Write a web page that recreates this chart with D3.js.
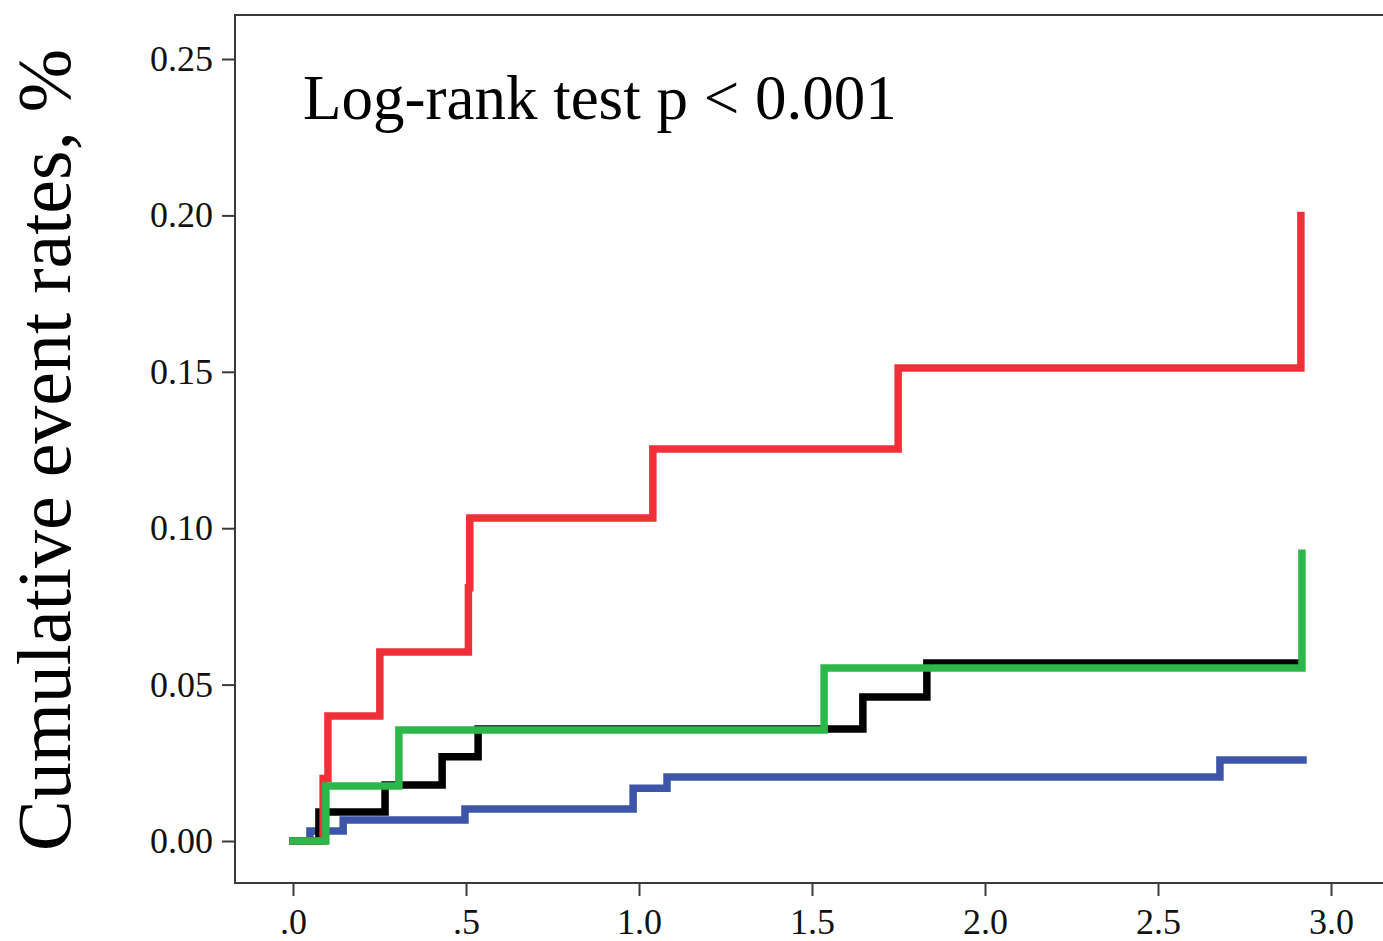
<!DOCTYPE html>
<html>
<head>
<meta charset="utf-8">
<script src="https://cdn.jsdelivr.net/npm/d3@7"></script>
<style>
  html, body { margin: 0; padding: 0; background: #fff; }
  svg { display: block; }
</style>
</head>
<body>
<svg id="chart" width="1383" height="941"></svg>
<script>
// ---- data (years, cumulative event rate) ----
const redTimes   = [0, 0.087, 0.101, 0.251, 0.507, 0.511, 1.040, 1.749, 2.913];
const redValues  = [0, 0.020, 0.040, 0.0604, 0.081, 0.1033, 0.1253, 0.1512, 0.2000];

const blackTimes  = [0, 0.075, 0.266, 0.431, 0.535, 1.647, 1.832, 2.905];
const blackValues = [0, 0.0093, 0.0179, 0.0269, 0.0358, 0.0460, 0.0569, 0.0569];

const greenTimes  = [0, 0.095, 0.306, 1.535, 2.916];
const greenValues = [0, 0.0176, 0.0355, 0.0553, 0.0920];

const blueTimes   = [0, 0.049, 0.145, 0.497, 0.983, 1.081, 2.679, 2.919];
const blueValues  = [0, 0.0032, 0.0067, 0.0102, 0.0169, 0.0205, 0.0259, 0.0259];

const yTicks = [0, 0.05, 0.10, 0.15, 0.20, 0.25];
const yTickLabels = ["0.00", "0.05", "0.10", "0.15", "0.20", "0.25"];
const xTicks = [0, 0.5, 1.0, 1.5, 2.0, 2.5, 3.0];
const xTickLabels = [".0", ".5", "1.0", "1.5", "2.0", "2.5", "3.0"];

const yTitle = "Cumulative event rates, %";
const annotation = "Log-rank test p < 0.001";

(function () {
// ---- layout ----
const svg = d3.select("#chart");
const mLeft = 235, mTop = 15, mBottom = 883, mRight = 1420;

// x: 0 -> 293px, 3.0 -> 1331px ; y: 0 -> 841px, 0.25 -> 59px
const x = d3.scaleLinear().domain([0, 3]).range([293, 1331]);
const y = d3.scaleLinear().domain([0, 0.25]).range([841, 59]);

// frame
svg.append("rect")
  .attr("x", mLeft).attr("y", mTop)
  .attr("width", mRight - mLeft).attr("height", mBottom - mTop)
  .attr("fill", "none").attr("stroke", "#3a3a3a").attr("stroke-width", 2);

// axes
const fontFam = "'Liberation Serif', 'Times New Roman', serif";
const yAxis = d3.axisLeft(y).tickValues(yTicks)
  .tickFormat((d, i) => yTickLabels[i]).tickSize(13).tickPadding(9);
const xAxis = d3.axisBottom(x).tickValues(xTicks)
  .tickFormat((d, i) => xTickLabels[i]).tickSize(13).tickPadding(12);

const gy = svg.append("g").attr("transform", `translate(${mLeft},0)`).call(yAxis);
const gx = svg.append("g").attr("transform", `translate(0,${mBottom})`).call(xAxis);
[gy, gx].forEach(g => {
  g.select(".domain").remove();
  g.selectAll(".tick line").attr("stroke", "#3a3a3a").attr("stroke-width", 2);
  g.selectAll(".tick text").attr("fill", "#111")
    .style("font-family", fontFam).style("font-size", "36px");
});

// lines
const line = d3.line()
  .x(d => x(d[0])).y(d => y(d[1]))
  .curve(d3.curveStepAfter);

const series = [
  { t: blueTimes,  v: blueValues,  color: "#3d55a8" },
  { t: blackTimes, v: blackValues, color: "#000000" },
  { t: redTimes,   v: redValues,   color: "#ee3139" },
  { t: greenTimes, v: greenValues, color: "#2db64a" }
];
series.forEach(s => {
  svg.append("path")
    .datum(s.t.map((t, i) => [t, s.v[i]]))
    .attr("d", line)
    .attr("fill", "none")
    .attr("stroke", s.color)
    .attr("stroke-width", 7.5)
    .attr("stroke-linejoin", "miter")
    .attr("stroke-linecap", "square");
});

// annotation
svg.append("text")
  .attr("x", 303).attr("y", 119)
  .style("font-family", fontFam).style("font-size", "63px")
  .attr("fill", "#000")
  .text(annotation);

// y title
svg.append("text")
  .attr("transform", "translate(70,450) rotate(-90)")
  .attr("text-anchor", "middle")
  .style("font-family", fontFam).style("font-size", "76px")
  .attr("fill", "#000")
  .text(yTitle);
})();
</script>
</body>
</html>
